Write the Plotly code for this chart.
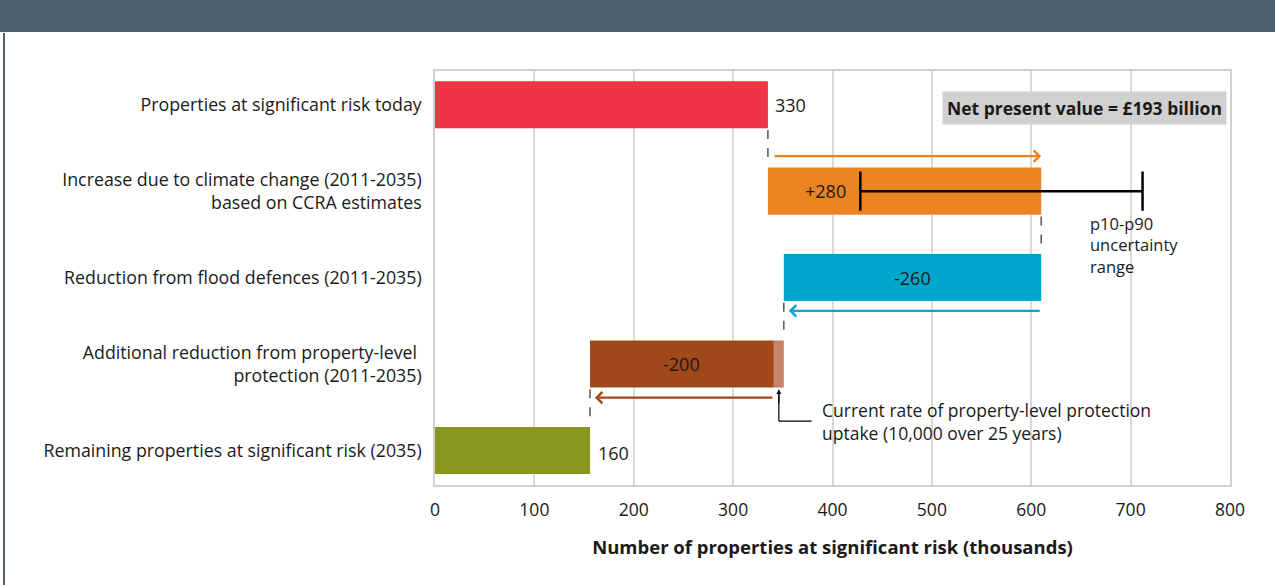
import plotly.graph_objects as go

# Waterfall of properties at significant flood risk (thousands)
categories = [
    "Properties at significant risk today",
    "Increase due to climate change (2011-2035)<br>based on CCRA estimates",
    "Reduction from flood defences (2011-2035)",
    "Additional reduction from property-level <br>protection (2011-2035)",
    "Remaining properties at significant risk (2035)",
]
bar_start = [0, 335, 351, 156, 0]
bar_end = [335, 610, 610, 341, 156]
bar_labels = ["330", "+280", "-260", "-200", "160"]
plp_current = [341, 351]      # current rate of PLP uptake segment
p10_p90 = [428, 712]          # uncertainty range on the climate increase
x_ticks = [0, 100, 200, 300, 400, 500, 600, 700, 800]

colors = ["#ef3445", "#ea841f", "#00a6cc", "#a1481b", "#86961e"]
light_brown = "#c8856a"
slate = "#4f6170"
text_col = "#1a1a1a"
font_family = "Open Sans"

W, H = 1275, 585
L, R, T, B = 435, 45, 71, 100
BAR_W = 0.545
half = BAR_W / 2
pos = list(range(len(categories)))


def px_x(p):
    return (p - L) / (W - L - R)


def px_y(p):
    return (H - B - p) / (H - T - B)


fig = go.Figure()

fig.add_trace(go.Bar(
    y=pos,
    x=[e - s for s, e in zip(bar_start, bar_end)],
    base=bar_start,
    orientation="h",
    width=BAR_W,
    marker=dict(color=colors, line=dict(width=0)),
    hoverinfo="skip",
))

# light segment: current rate of property-level protection
fig.add_trace(go.Bar(
    y=[3],
    x=[plp_current[1] - plp_current[0]],
    base=[plp_current[0]],
    orientation="h",
    width=BAR_W,
    marker=dict(color=light_brown, line=dict(width=0)),
    hoverinfo="skip",
))

# p10-p90 error bar
fig.add_trace(go.Scatter(
    x=p10_p90,
    y=[1, 1],
    mode="lines+markers",
    line=dict(color="black", width=2.5),
    marker=dict(symbol="line-ns-open", size=28, line=dict(color="black", width=2.5)),
    hoverinfo="skip",
))

shapes = []
# header band and left border
shapes.append(dict(type="rect", xref="paper", yref="paper",
                   x0=px_x(0), x1=px_x(W), y0=px_y(0), y1=px_y(32),
                   fillcolor=slate, line=dict(width=0), layer="above"))
shapes.append(dict(type="line", xref="paper", yref="paper",
                   x0=px_x(4), x1=px_x(4), y0=px_y(33), y1=px_y(H),
                   line=dict(color=slate, width=2)))

# dashed connectors between bars
connectors = [bar_end[0], bar_end[1], bar_start[2], bar_start[3]]
for i, xv in enumerate(connectors):
    shapes.append(dict(type="line", xref="x", yref="y",
                       x0=xv, x1=xv, y0=i + half + 0.02, y1=i + 1 - half - 0.02,
                       line=dict(color="#555555", width=1.5, dash="dash")))

# callout elbow for the PLP segment
mid_plp = sum(plp_current) / 2
callout_y = 3.66
callout_text_x = 387
shapes.append(dict(type="line", xref="x", yref="y",
                   x0=mid_plp, x1=mid_plp, y0=3 + half + 0.05, y1=callout_y,
                   line=dict(color="black", width=1.2)))
shapes.append(dict(type="line", xref="x", yref="y",
                   x0=mid_plp, x1=callout_text_x - 8, y0=callout_y, y1=callout_y,
                   line=dict(color="black", width=1.2)))

annotations = []
label_font = dict(family=font_family, size=17.5, color=text_col)
value_font = dict(family=font_family, size=18, color=text_col)

# value labels
annotations.append(dict(x=bar_end[0], y=0, text=bar_labels[0], showarrow=False,
                        xanchor="left", xshift=5, font=value_font))
annotations.append(dict(x=bar_start[1] + 58, y=1, text=bar_labels[1], showarrow=False,
                        xanchor="center", font=value_font))
annotations.append(dict(x=(bar_start[2] + bar_end[2]) / 2, y=2, text=bar_labels[2],
                        showarrow=False, font=value_font))
annotations.append(dict(x=(bar_start[3] + plp_current[0]) / 2, y=3, text=bar_labels[3],
                        showarrow=False, font=value_font))
annotations.append(dict(x=bar_end[4], y=4, text=bar_labels[4], showarrow=False,
                        xanchor="left", xshift=6, yshift=-3, font=value_font))

# direction arrows
arrows = [
    (bar_start[1] + 5, bar_end[1], 0.595, colors[1]),
    (bar_end[2], bar_start[2] + 5, 2.385, colors[2]),
    (plp_current[0], bar_start[3] + 5, 3.39, colors[3]),
]
for tail, tip, yv, col in arrows:
    annotations.append(dict(x=tip, y=yv, ax=tail, ay=yv, xref="x", yref="y",
                            axref="x", ayref="y", text="", showarrow=True,
                            arrowhead=4, arrowsize=1, arrowwidth=2.2,
                            arrowcolor=col, standoff=0))

# callout arrowhead pointing at the light segment
annotations.append(dict(x=mid_plp, y=3 + half + 0.02, ax=mid_plp, ay=3 + half + 0.2,
                        xref="x", yref="y", axref="x", ayref="y", text="",
                        showarrow=True, arrowhead=2, arrowsize=0.8, arrowwidth=1.2,
                        arrowcolor="black", standoff=0))
annotations.append(dict(x=callout_text_x, y=callout_y, text="Current rate of property-level protection<br>uptake (10,000 over 25 years)",
                        showarrow=False, xanchor="left", yanchor="middle", align="left",
                        font=label_font))

# uncertainty label
annotations.append(dict(x=px_x(1089), y=px_y(211), xref="paper", yref="paper",
                        text="p10-p90<br>uncertainty<br>range", showarrow=False,
                        xanchor="left", yanchor="top", align="left", borderpad=0,
                        font=dict(family=font_family, size=16.5, color=text_col)))

# NPV box
annotations.append(dict(x=px_x(1227), y=px_y(108.5), xref="paper", yref="paper",
                        text="<b>Net present value = £193 billion</b>", showarrow=False,
                        xanchor="right", yanchor="middle", bgcolor="#cfd0cf",
                        borderpad=4, font=dict(family=font_family, size=17.5, color=text_col)))

fig.update_layout(
    width=W, height=H,
    margin=dict(l=L, r=R, t=T, b=B),
    paper_bgcolor="white",
    plot_bgcolor="white",
    showlegend=False,
    barmode="overlay",
    shapes=shapes,
    annotations=annotations,
    font=dict(family=font_family, color=text_col),
    xaxis=dict(
        range=[0, 800],
        tickvals=x_ticks,
        tickfont=dict(family=font_family, size=17.5, color=text_col),
        showgrid=True, gridcolor="#d9d9d9", gridwidth=1.5,
        zeroline=False,
        showline=True, linecolor="#d0d0d0", linewidth=1.5, mirror=True,
        ticks="", ticklabelstandoff=8,
        title=dict(text="<b>Number of properties at significant risk (thousands)</b>",
                   font=dict(family=font_family, size=18.5, color=text_col), standoff=21),
    ),
    yaxis=dict(
        range=[4.4, -0.39],
        tickvals=pos,
        ticktext=categories,
        tickfont=dict(family=font_family, size=17.8, color=text_col),
        showgrid=False, zeroline=False,
        showline=True, linecolor="#d0d0d0", linewidth=1.5, mirror=True,
        ticks="", ticklabelstandoff=8,
    ),
)

# drop the default page margin so the figure sits at the window origin
fig.write_html("out.html", config={"displayModeBar": False},
               post_script="document.body.style.margin='0';")
